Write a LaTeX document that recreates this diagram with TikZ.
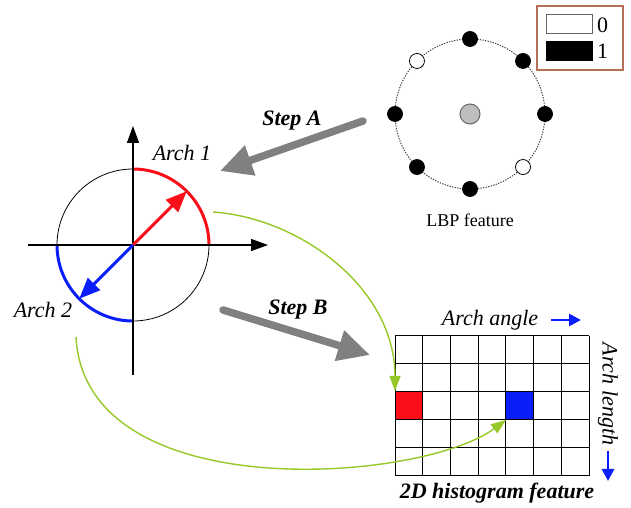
\documentclass[tikz,border=0pt]{standalone}
\usepackage{fontspec}
\setmainfont{Liberation Serif}
\usetikzlibrary{arrows.meta}
\definecolor{archred}{RGB}{250,15,25}
\definecolor{archblue}{RGB}{10,30,250}
\definecolor{stepgray}{RGB}{128,128,128}
\definecolor{linkgreen}{RGB}{150,200,40}
\definecolor{legendframe}{RGB}{180,110,85}
\definecolor{centergray}{RGB}{190,190,190}
\tikzset{
  bigfont/.style={font=\fontsize{22}{24}\selectfont},
  ittext/.style={font=\fontsize{22}{24}\selectfont\itshape, inner sep=0pt},
  bittext/.style={font=\fontsize{22}{24}\selectfont\bfseries\itshape, inner sep=0pt},
  axisline/.style={line width=1.2pt, -{Triangle[length=17pt,width=12pt]}},
  archline/.style={line width=3pt},
  archarrow/.style={line width=3pt, -{Triangle[length=21pt,width=17pt]}},
  steparrow/.style={draw=stepgray, line width=7.5pt, line cap=round, -{Triangle[length=32pt,width=30pt]}},
  linkarrow/.style={draw=linkgreen, line width=1.4pt, -{Triangle[length=15pt,width=11pt]}},
  dirarrow/.style={draw=archblue, line width=2.8pt, -{Triangle[length=12pt,width=12pt]}},
  lbpdot/.style={circle, draw=black, line width=0.8pt, minimum size=15pt, inner sep=0pt},
}
\begin{document}
\begin{tikzpicture}[x=1pt,y=1pt]
\useasboundingbox (0,0) rectangle (631,508);

% ---------------- polar diagram ----------------
\coordinate (O) at (133,263);
\coordinate (vb) at (133,133);
\coordinate (vt) at (133,382);
\coordinate (hl) at (28,263);
\coordinate (hr) at (268,263);
\draw[line width=0.8pt] (O) circle[radius=76];
\draw[archline, archred] ([shift={(90:76)}]O) arc[start angle=90, end angle=0, radius=76];
\draw[archline, archblue] ([shift={(180:76)}]O) arc[start angle=180, end angle=270, radius=76];
\draw[axisline] (vb) -- (vt);
\draw[axisline] (hl) -- (hr);
\coordinate (redtip) at ([shift={(45:76)}]O);
\coordinate (bluetip) at ([shift={(225:76)}]O);
\draw[archarrow, archred] (O) -- (redtip);
\draw[archarrow, archblue] (O) -- (bluetip);
\node[ittext] (arch1) at (182,355) {Arch 1};
\node[ittext] (arch2) at (43,198) {Arch 2};

% ---------------- LBP feature ----------------
\coordinate (L) at (470,394);
\draw[line width=1pt, draw=black!75, dash pattern=on 1.3pt off 1.3pt] (L) circle[radius=75];
\foreach \a/\f in {90/black,45/black,0/black,-45/white,-90/black,-135/black,180/black,135/white}{
  \node[lbpdot, fill=\f] (d\a) at ([shift={(\a:75)}]L) {};
}
\node[circle, draw=black!60, fill=centergray, line width=1pt, minimum size=20pt, inner sep=0pt] (lc) at (L) {};
\node[font=\fontsize{18}{20}\selectfont, inner sep=0pt] (lbplabel) at (470,288) {LBP feature};

% legend
\node[draw=legendframe, line width=1.2pt, minimum width=86pt, minimum height=64pt, inner sep=0pt] (legend) at (580,470) {};
\node[draw=black!60, fill=white, line width=1pt, minimum width=46pt, minimum height=19pt, inner sep=0pt] (leg0) at (569,483.5) {};
\node[draw=black, fill=black, minimum width=46pt, minimum height=19pt, inner sep=0pt] (leg1) at (569,457.5) {};
\node[bigfont, inner sep=0pt, anchor=west] (leg0t) at (597,483) {0};
\node[bigfont, inner sep=0pt, anchor=west] (leg1t) at (597,457) {1};

% ---------------- steps ----------------
\coordinate (sa1) at (363,387);
\coordinate (sa2) at (220,337);
\draw[steparrow] (sa1) -- (sa2);
\node[bittext] (stepA) at (292,387) {Step A};
\coordinate (sb1) at (223,198);
\coordinate (sb2) at (370,153);
\draw[steparrow] (sb1) -- (sb2);
\node[bittext] (stepB) at (298,198) {Step B};

% ---------------- histogram ----------------
\fill[archred] (395,88) rectangle (422.71,116);
\fill[archblue] (505.86,88) rectangle (533.57,116);
\foreach \i in {0,...,7}{
  \draw[line width=1pt] ({395+\i*194/7},32) -- ({395+\i*194/7},172);
}
\foreach \j in {0,...,5}{
  \draw[line width=1pt] (395,{32+\j*28}) -- (589,{32+\j*28});
}
\coordinate (redcell) at (395,117);
\coordinate (bluecell) at (506,88);
\node[ittext] (angle) at (490,188) {Arch angle};
\coordinate (aa1) at (551,188);
\coordinate (aa2) at (581,188);
\draw[dirarrow] (aa1) -- (aa2);
\node[ittext, rotate=-90] (length) at (608,114) {Arch length};
\coordinate (al1) at (608,57);
\coordinate (al2) at (608,27);
\draw[dirarrow] (al1) -- (al2);
\node[bittext] (histlabel) at (497,15) {2D histogram feature};

% ---------------- green links ----------------
\coordinate (g1s) at (213,296);
\coordinate (g2s) at (76,171);
\draw[linkarrow] (g1s) .. controls (300,290) and (395,220) .. (redcell);
\draw[linkarrow] (g2s) .. controls (85,0) and (420,25) .. (bluecell);
\end{tikzpicture}
\end{document}
